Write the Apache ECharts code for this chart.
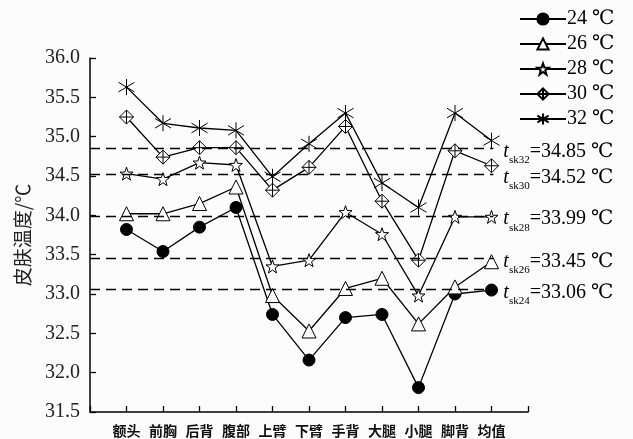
<!DOCTYPE html>
<html>
<head>
<meta charset="utf-8">
<script src="https://cdn.jsdelivr.net/npm/echarts@6/dist/echarts.min.js"></script>
<style>
  html, body { margin: 0; padding: 0; background: #fcfcfc; }
  #chart { width: 633px; height: 439px; }
</style>
</head>
<body>
<div id="chart"></div>
<script>
// body parts along the x axis
const parts = ['额头', '前胸', '后背', '腹部', '上臂', '下臂', '手背', '大腿', '小腿', '脚背', '均值']

// skin temperature for each room temperature
const t24 = [33.82, 33.54, 33.85, 34.10, 32.74, 32.16, 32.70, 32.74, 31.81, 33.00, 33.05]
const t26 = [34.02, 34.02, 34.15, 34.36, 32.98, 32.53, 33.07, 33.20, 32.62, 33.09, 33.41]
const t28 = [34.53, 34.46, 34.67, 34.64, 33.35, 33.43, 34.04, 33.76, 32.98, 33.98, 33.98]
const t30 = [35.25, 34.74, 34.86, 34.86, 34.32, 34.61, 35.13, 34.18, 33.43, 34.82, 34.63]
const t32 = [35.63, 35.17, 35.11, 35.08, 34.49, 34.91, 35.30, 34.41, 34.10, 35.30, 34.95]

const seriesNames = ['24 ℃', '26 ℃', '28 ℃', '30 ℃', '32 ℃']

// mean skin temperature reference lines
const meanKeys = ['32', '30', '28', '26', '24']
const meanValues = [34.85, 34.52, 33.99, 33.45, 33.06]

const serif = '"Liberation Serif", "DejaVu Serif", serif'
const starPath = 'path://M0,-1 L0.235,-0.324 L0.951,-0.309 L0.380,0.124 L0.588,0.809 L0,0.4 L-0.588,0.809 L-0.380,0.124 L-0.951,-0.309 L-0.235,-0.324 Z'
const diamondCross = 'path://M0,-1 L1,0 L0,1 L-1,0 Z M0,-1 L0,1 M-1,0 L1,0'
const asterisk = 'path://M0,-1 L0,1 M-0.8,-0.6 L0.8,0.6 M-0.8,0.6 L0.8,-0.6'

const toPoints = arr => arr.map((v, i) => [i + 1, v])

const chart = echarts.init(document.getElementById('chart'))

const makeSeries = (name, values, symbol, size, fill) => ({
  name,
  type: 'line',
  data: toPoints(values),
  symbol,
  symbolSize: size,
  showAllSymbol: true,
  lineStyle: { color: '#000', width: 1.3 },
  itemStyle: { color: fill, borderColor: '#000', borderWidth: 1 },
  emphasis: { disabled: true },
  z: 3
})

const series = [
  makeSeries(seriesNames[0], t24, 'circle', 12, '#000'),
  makeSeries(seriesNames[1], t26, 'triangle', 14, '#fff'),
  makeSeries(seriesNames[2], t28, starPath, 13, '#fff'),
  makeSeries(seriesNames[3], t30, diamondCross, 14, '#fff'),
  makeSeries(seriesNames[4], t32, asterisk, 16, '#fff')
]

series[0].markLine = {
  silent: true,
  symbol: ['none', 'none'],
  lineStyle: { color: '#000', width: 1.3, type: [10, 6] },
  label: {
    show: true,
    position: 'end',
    distance: 10,
    color: '#000',
    rich: {
      t: { fontFamily: serif, fontStyle: 'italic', fontSize: 20, color: '#000', verticalAlign: 'bottom', lineHeight: 26 },
      s: { fontFamily: serif, fontSize: 11, color: '#000', verticalAlign: 'bottom', lineHeight: 16, padding: [0, 0, -4, 0] },
      v: { fontFamily: serif, fontSize: 20, color: '#000', verticalAlign: 'bottom', lineHeight: 26 }
    }
  },
  data: meanValues.map((v, i) => [
    { coord: [0, v] },
    {
      coord: [11.05, v],
      label: { formatter: '{t|t}{s|sk' + meanKeys[i] + '}{v|=' + v.toFixed(2) + ' ℃}' }
    }
  ])
}

const option = {
  backgroundColor: '#fcfcfc',
  animation: false,
  legend: {
    orient: 'vertical',
    left: 514,
    top: 4,
    itemWidth: 46,
    itemHeight: 14,
    itemGap: 5,
    data: seriesNames,
    textStyle: { fontFamily: serif, fontSize: 20, color: '#000', padding: [0, 0, 0, -4] }
  },
  grid: {
    left: 90,
    right: 105,
    top: 58,
    bottom: 27,
    containLabel: false
  },
  xAxis: {
    type: 'value',
    min: 0,
    max: 12,
    interval: 1,
    axisLine: { lineStyle: { color: '#000', width: 1.5 } },
    axisTick: { inside: true, length: 6, lineStyle: { color: '#000', width: 1.3 } },
    splitLine: { show: false },
    axisLabel: {
      margin: 12,
      color: '#111',
      fontSize: 14,
      fontWeight: 'bold',
      fontFamily: '"Noto Sans CJK SC", sans-serif',
      formatter: v => (v >= 1 && v <= parts.length ? parts[v - 1] : '')
    }
  },
  yAxis: {
    type: 'value',
    min: 31.5,
    max: 36,
    interval: 0.5,
    name: '皮肤温度/℃',
    nameLocation: 'middle',
    nameGap: 58,
    nameTextStyle: { fontFamily: '"Noto Sans CJK SC", sans-serif', fontSize: 19, color: '#222' },
    axisLine: { show: true, lineStyle: { color: '#000', width: 1.5 } },
    axisTick: { show: true, inside: true, length: 6, lineStyle: { color: '#000', width: 1.3 } },
    splitLine: { show: false },
    axisLabel: {
      margin: 10,
      color: '#222',
      fontSize: 20,
      fontFamily: serif,
      formatter: v => v.toFixed(1)
    }
  },
  series
}

chart.setOption(option)
</script>
</body>
</html>
